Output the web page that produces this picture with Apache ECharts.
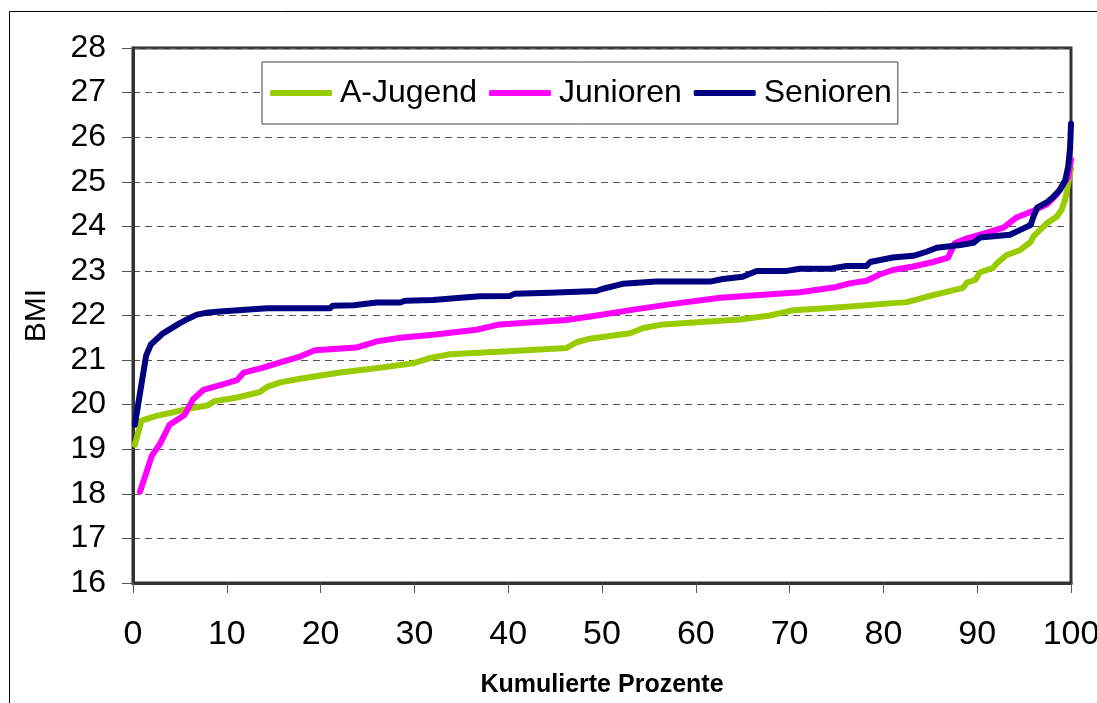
<!DOCTYPE html>
<html>
<head>
<meta charset="utf-8">
<script src="https://cdn.jsdelivr.net/npm/echarts@6/dist/echarts.min.js"></script>
<style>
  html, body { margin: 0; padding: 0; background: #fff; }
  #chart { width: 1097px; height: 703px; }
</style>
</head>
<body>
<div id="chart"></div>
<script>
// Cumulative BMI distributions: [cumulative percent, BMI]
const seriesNames = ['A-Jugend', 'Junioren', 'Senioren'];
const seriesColors = ['#99CC00', '#FF00FF', '#000080'];

const aJugend = [
  [0.2,19.1],[0.9,19.64],[2.5,19.75],[4.3,19.83],[5.7,19.9],[7.9,19.98],[8.7,20.08],
  [11.1,20.16],[13.5,20.28],[14.3,20.4],[15.7,20.5],[17.8,20.58],[22.1,20.72],[26.3,20.83],
  [29.9,20.93],[31.7,21.05],[33.8,21.13],[40.0,21.2],[46.2,21.27],[47.3,21.4],[48.7,21.48],
  [53.0,21.6],[54.4,21.72],[56.5,21.8],[64.7,21.91],[67.9,22.0],[70.4,22.12],[74.3,22.17],
  [82.5,22.3],[84.6,22.42],[88.5,22.62],[88.9,22.74],[89.8,22.8],[90.3,22.97],[91.7,23.07],
  [92.1,23.17],[93.1,23.35],[94.6,23.47],[95.7,23.65],[96.0,23.78],[97.5,24.08],[98.5,24.22],
  [99.0,24.37],[99.4,24.62],[99.7,24.95],[99.9,25.2],[100,25.3]
];

const junioren = [
  [0.75,18.05],[1.1,18.27],[2.0,18.85],[2.9,19.13],[3.9,19.55],[5.5,19.77],[6.4,20.12],
  [7.5,20.33],[9.3,20.44],[11.1,20.55],[11.8,20.72],[13.9,20.83],[15.7,20.95],[17.8,21.08],
  [19.4,21.22],[23.8,21.28],[26.0,21.42],[28.5,21.5],[32.0,21.57],[36.6,21.68],[39.1,21.8],
  [46.2,21.9],[49.8,22.01],[53.0,22.12],[57.2,22.25],[62.6,22.4],[71.1,22.52],[75.0,22.64],
  [76.4,22.72],[78.2,22.78],[79.6,22.92],[81.0,23.02],[83.2,23.1],[85.3,23.2],[86.9,23.3],
  [87.6,23.62],[88.9,23.73],[90.6,23.83],[92.8,23.97],[94.2,24.2],[96.0,24.35],[97.5,24.5],
  [98.5,24.72],[99.2,24.95],[99.7,25.1],[100,25.5]
];

const senioren = [
  [0.2,19.55],[0.7,20.2],[1.4,21.1],[1.9,21.35],[3.2,21.6],[5.0,21.83],[6.0,21.94],[6.8,22.02],
  [7.8,22.06],[9.3,22.09],[14.3,22.16],[21.0,22.16],[21.3,22.22],[23.5,22.23],[26.0,22.29],
  [28.5,22.29],[29.0,22.33],[32.0,22.35],[34.9,22.4],[37.0,22.43],[40.2,22.44],[40.7,22.49],
  [44.5,22.51],[49.4,22.55],[50.1,22.6],[52.2,22.71],[55.8,22.76],[61.5,22.76],[62.9,22.82],
  [65.0,22.87],[66.5,23.0],[69.7,23.0],[71.1,23.05],[74.3,23.05],[76.1,23.11],[78.2,23.11],
  [78.6,23.2],[81.0,23.3],[83.2,23.34],[84.6,23.43],[85.7,23.52],[88.2,23.58],[89.6,23.63],
  [90.3,23.75],[93.5,23.81],[94.6,23.92],[95.7,24.03],[96.0,24.22],[96.4,24.42],[97.5,24.55],
  [98.1,24.66],[98.8,24.81],[99.4,25.04],[99.7,25.34],[99.9,25.75],[100,26.3]
];

const seriesData = [aJugend, junioren, senioren];

const chart = echarts.init(document.getElementById('chart'), null, { renderer: 'canvas' });

const baseFont = "'Liberation Sans', Arial, sans-serif";

chart.setOption({
  backgroundColor: '#fff',
  animation: false,
  graphic: [{
    type: 'rect',
    shape: { x: 9.5, y: 11.5, width: 1100, height: 700 },
    style: { fill: 'none', stroke: '#000', lineWidth: 1 },
    silent: true, z: 0
  }],
  grid: {
    left: 133, right: 26, top: 48, bottom: 120,
    containLabel: false,
    outerBoundsMode: 'none',
    show: true, borderColor: '#333', borderWidth: 3, backgroundColor: 'transparent'
  },
  legend: {
    data: seriesNames,
    left: 262, top: 62,
    padding: [15, 6, 15, 8],
    itemGap: 12,
    itemWidth: 62, itemHeight: 6,
    icon: 'roundRect',
    borderColor: '#444', borderWidth: 1, borderRadius: 0,
    backgroundColor: '#fff',
    textStyle: { fontFamily: baseFont, fontSize: 32, color: '#000', padding: [0, 0, 0, 3] }
  },
  xAxis: {
    type: 'value', min: 0, max: 100, interval: 10,
    name: 'Kumulierte Prozente', nameLocation: 'middle', nameGap: 90,
    nameTextStyle: { fontFamily: baseFont, fontWeight: 'bold', fontSize: 25, color: '#000' },
    axisLine: { show: true, lineStyle: { color: '#333', width: 3 } },
    axisTick: { show: true, inside: false, length: 10, lineStyle: { color: '#555', width: 1 } },
    axisLabel: { fontFamily: baseFont, fontSize: 34, color: '#000', margin: 35 },
    splitLine: { show: false }
  },
  yAxis: {
    type: 'value', min: 16, max: 28, interval: 1,
    name: 'BMI', nameLocation: 'middle', nameGap: 81, nameRotate: 90,
    nameTextStyle: { fontFamily: baseFont, fontSize: 30, color: '#000' },
    axisLine: { show: true, lineStyle: { color: '#333', width: 3 } },
    axisTick: { show: true, inside: false, length: 11, lineStyle: { color: '#555', width: 1 } },
    axisLabel: { fontFamily: baseFont, fontSize: 32, color: '#000', margin: 27 },
    splitLine: { show: true, lineStyle: { color: '#555', width: 1, type: [7, 5] } }
  },
  series: seriesNames.map((name, i) => ({
    name: name,
    type: 'line',
    data: seriesData[i],
    showSymbol: false,
    symbol: 'none',
    smooth: false,
    clip: false,
    color: seriesColors[i],
    lineStyle: { color: seriesColors[i], width: 6, cap: 'round', join: 'round' },
    z: 3 + i
  }))
});
</script>
</body>
</html>
